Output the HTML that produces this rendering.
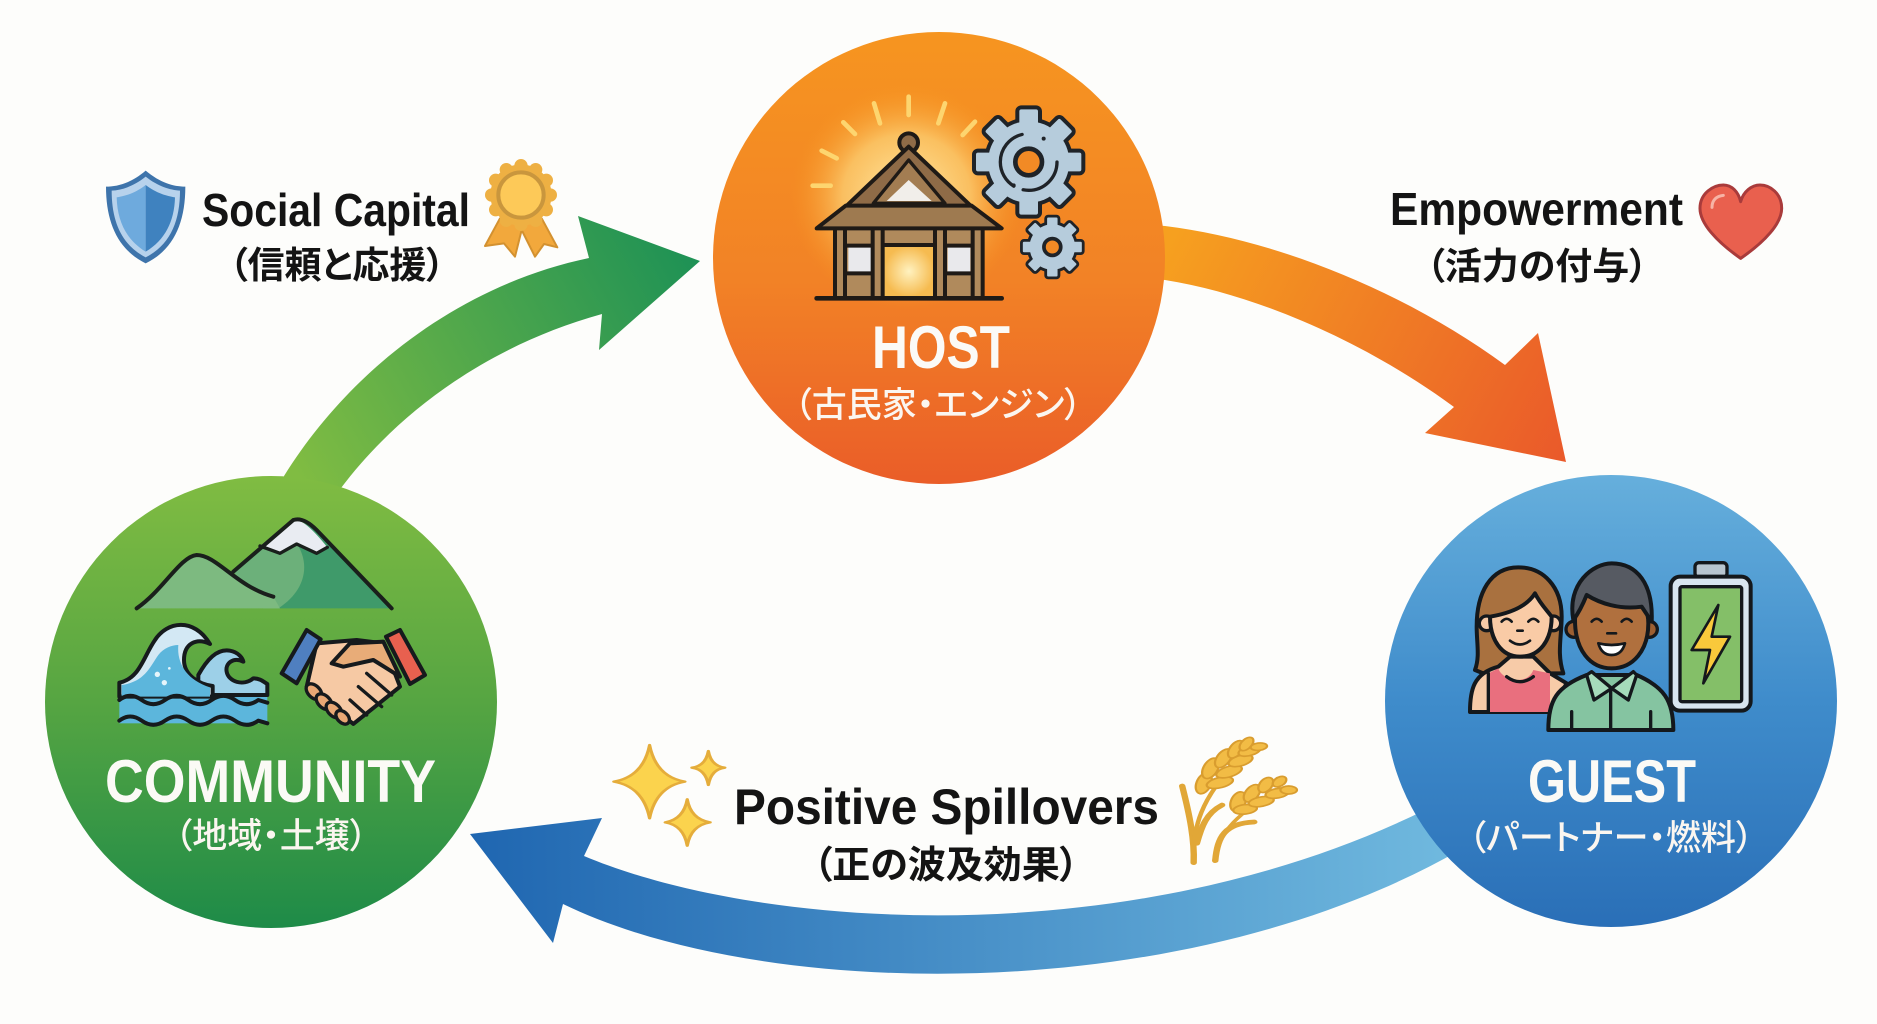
<!DOCTYPE html>
<html lang="ja">
<head>
<meta charset="utf-8">
<title>Community Host Guest cycle</title>
<style>
html,body{margin:0;padding:0;background:#fdfdfb;width:1877px;height:1024px;overflow:hidden}
svg{display:block}
.en{font-family:"Liberation Sans","Noto Sans CJK JP",sans-serif;font-weight:700;fill:#141414}
.jp{font-family:"Liberation Sans","Noto Sans CJK JP",sans-serif;font-weight:700;fill:#141414;font-feature-settings:"palt"}
.w{fill:#fbfaf6;font-family:"Liberation Sans",sans-serif;font-weight:700}
.jw{font-family:"Liberation Sans","Noto Sans CJK JP",sans-serif;font-weight:500;fill:#fbf6f0;font-feature-settings:"palt"}
</style>
</head>
<body>
<svg width="1877" height="1024" viewBox="0 0 1877 1024" xmlns="http://www.w3.org/2000/svg">
<defs>
<linearGradient id="gh" x1="0" y1="0" x2="0" y2="1"><stop offset="0" stop-color="#f69520"/><stop offset=".55" stop-color="#f28226"/><stop offset="1" stop-color="#ea5d28"/></linearGradient>
<linearGradient id="gc" x1="0" y1="0" x2="0" y2="1"><stop offset="0" stop-color="#80bc42"/><stop offset=".5" stop-color="#56a542"/><stop offset="1" stop-color="#1e8b48"/></linearGradient>
<linearGradient id="gg" x1="0" y1="0" x2="0" y2="1"><stop offset="0" stop-color="#66afdc"/><stop offset=".5" stop-color="#3f8ccb"/><stop offset="1" stop-color="#2a6fb7"/></linearGradient>
<linearGradient id="ag" gradientUnits="userSpaceOnUse" x1="300" y1="480" x2="690" y2="260"><stop offset="0" stop-color="#80bc42"/><stop offset="1" stop-color="#1f9255"/></linearGradient>
<linearGradient id="ao" gradientUnits="userSpaceOnUse" x1="1165" y1="250" x2="1560" y2="460"><stop offset="0" stop-color="#f6a01f"/><stop offset="1" stop-color="#ea5a2a"/></linearGradient>
<linearGradient id="ab" gradientUnits="userSpaceOnUse" x1="1440" y1="830" x2="480" y2="850"><stop offset="0" stop-color="#6fb8de"/><stop offset="1" stop-color="#2067b1"/></linearGradient>
<radialGradient id="glow"><stop offset="0" stop-color="#fff0b0" stop-opacity=".95"/><stop offset=".55" stop-color="#fdd67a" stop-opacity=".7"/><stop offset="1" stop-color="#f7981f" stop-opacity="0"/></radialGradient>
<radialGradient id="door"><stop offset="0" stop-color="#fff2c0"/><stop offset="1" stop-color="#f6bb50"/></radialGradient>
<g id="g1"><circle cx="0" cy="0" r="122"/><rect x="-28" y="-158" width="56" height="70" rx="6"/><rect x="-28" y="-158" width="56" height="70" rx="6" transform="rotate(45)"/><rect x="-28" y="-158" width="56" height="70" rx="6" transform="rotate(90)"/><rect x="-28" y="-158" width="56" height="70" rx="6" transform="rotate(135)"/><rect x="-28" y="-158" width="56" height="70" rx="6" transform="rotate(180)"/><rect x="-28" y="-158" width="56" height="70" rx="6" transform="rotate(225)"/><rect x="-28" y="-158" width="56" height="70" rx="6" transform="rotate(270)"/><rect x="-28" y="-158" width="56" height="70" rx="6" transform="rotate(315)"/></g>
</defs>
<rect width="1877" height="1024" fill="#fdfdfb"/>

<!-- arrows -->
<path fill="url(#ag)" d="M284,476 C350,370 460,285 589,258 L578,216 L700,261 L599,350 L602,314 C490,345 400,410 341,488 L330,540 L270,520 Z"/>
<path fill="url(#ao)" d="M1140,224 L1165,226 C1280,240 1410,295 1505,365 L1538,333 L1566,462 L1425,433 L1454,407 C1370,345 1260,295 1165,280 L1140,278 Z"/>
<path fill="url(#ab)" d="M1425,810 C1130,955 760,930 584,856 L602,818 L470,834 L553,943 L563,904 C760,1000 1180,1010 1460,850 Z"/>

<!-- circles -->
<circle cx="939" cy="258" r="226" fill="url(#gh)"/>
<circle cx="271" cy="702" r="226" fill="url(#gc)"/>
<circle cx="1611" cy="701" r="226" fill="url(#gg)"/>

<!-- HOST icon -->
<g transform="translate(680,0) scale(.33333)" stroke-linejoin="round" stroke-linecap="round">
<ellipse cx="680" cy="590" rx="350" ry="340" fill="url(#glow)"/>
<g stroke="#fdd56f" stroke-width="14" fill="none">
<path d="M398,557H452M425,452L470,475M490,367L525,402M582,310L600,370M686,290V345M795,310L775,370M885,365L848,405"/>
</g>
<circle cx="686" cy="428" r="28" fill="#8f6b47" stroke="#1f1a16" stroke-width="12"/>
<path d="M686,440L497,620H875Z" fill="#8f6b47" stroke="#1f1a16" stroke-width="12"/>
<path d="M686,480L580,610H795Z" fill="#a37d52" stroke="#1f1a16" stroke-width="10"/>
<path d="M620,603L686,540L755,603Z" fill="#f1eeea"/>
<rect x="465" y="685" width="445" height="208" fill="#b08a5c"/>
<rect x="505" y="740" width="68" height="78" fill="#e9e9ec"/>
<rect x="803" y="740" width="68" height="78" fill="#e9e9ec"/>
<rect x="612" y="738" width="150" height="152" fill="url(#door)"/>
<g fill="none" stroke="#1f1a16" stroke-width="12">
<path d="M465,685V893M495,685V893M578,685V893M608,685V893M765,685V893M795,685V893M878,685V893M908,685V893M497,737H575M612,735H762M800,737H878M497,820H575M800,820H878"/>
</g>
<path d="M497,617H875L965,685H410Z" fill="#9e7a50" stroke="#1f1a16" stroke-width="12"/>
<path d="M410,895H965" stroke="#1f1a16" stroke-width="14" fill="none"/>
<g transform="translate(1046,486)">
<use href="#g1" fill="#1f2328" stroke="#1f2328" stroke-width="24"/>
<use href="#g1" fill="#b6ccdc"/>
<circle r="85" fill="none" stroke="#1f2328" stroke-width="10" stroke-dasharray="150 30 200 154"/>
<circle r="40" fill="#f28a25" stroke="#1f2328" stroke-width="14"/>
<circle cx="45" cy="-70" r="6" fill="#1f2328"/><circle cx="-45" cy="70" r="6" fill="#1f2328"/>
</g>
<g transform="translate(1117,741) scale(.56)">
<use href="#g1" fill="#1f2328" stroke="#1f2328" stroke-width="30"/>
<use href="#g1" fill="#b6ccdc"/>
<circle r="45" fill="#f28a25" stroke="#1f2328" stroke-width="20"/>
</g>
</g>

<!-- COMMUNITY icon -->
<g transform="translate(30,500) scale(.33333)" stroke-linejoin="round" stroke-linecap="round">
<path d="M610,215L800,60L860,85L1085,325H745Z" fill="#3f9a6a"/>
<path d="M610,215L690,140L800,130C840,190 830,270 745,325H700Z" fill="#6cb07a"/>
<path d="M320,325C400,270 450,170 500,165C560,165 620,260 730,290L750,325Z" fill="#7dba80"/>
<path d="M690,138L790,60Q820,52 892,142L860,160L800,132L750,160Z" fill="#e9ecf2"/>
<path d="M690,138L750,160L800,132L860,160L892,142" fill="none" stroke="#1a1f1c" stroke-width="10"/>
<path d="M320,325C400,270 450,170 500,165C560,165 620,260 730,290M610,215L790,60Q820,50 860,90L1085,325" fill="none" stroke="#1a1f1c" stroke-width="12"/>
<rect x="268" y="552" width="444" height="118" fill="#5cb6dc"/>
<path d="M505,525C530,480 560,445 600,452C625,456 638,475 640,485C610,470 585,490 590,515C595,545 640,560 670,535C690,535 700,545 712,552V585H505Z" fill="#9dd0e8" stroke="#161a1d" stroke-width="12"/>
<path d="M268,548C330,535 340,470 375,420C410,365 490,350 540,432C500,412 462,430 462,480C462,525 505,552 548,558V590H268Z" fill="#d3e8f4" stroke="#161a1d" stroke-width="12"/>
<path d="M275,555C345,545 360,500 385,465C400,445 425,435 445,435C440,490 470,540 540,562V590H275Z" fill="#5cb6dc"/>
<path d="M268,600Q300,575 335,600T405,600T475,600T545,600T615,600T685,600L712,608" fill="none" stroke="#161a1d" stroke-width="12"/>
<path d="M268,662Q300,637 335,662T405,662T475,662T545,662T615,662T685,662L712,670" fill="none" stroke="#161a1d" stroke-width="12"/>
<circle cx="382" cy="523" r="8" fill="#e6f5fb"/><circle cx="403" cy="548" r="8" fill="#e6f5fb"/><circle cx="418" cy="505" r="4" fill="#e6f5fb"/>
<path d="M860,430L980,420L1060,430L1110,560L970,672L830,560Z" fill="#f6c9a4" stroke="#161a1d" stroke-width="12"/>
<path d="M905,490L960,430L1060,425L1110,530L1030,480L940,500Z" fill="#e8ac78" stroke="#161a1d" stroke-width="12"/>
<path d="M1010,520L1085,585M985,560L1055,620M960,600L1010,645" stroke="#161a1d" stroke-width="10" fill="none"/>
<g fill="#e9a875" stroke="#161a1d" stroke-width="10">
<ellipse cx="852" cy="575" rx="28" ry="18" transform="rotate(45 852 575)"/>
<ellipse cx="882" cy="605" rx="28" ry="18" transform="rotate(45 882 605)"/>
<ellipse cx="912" cy="630" rx="28" ry="18" transform="rotate(45 912 630)"/>
<ellipse cx="938" cy="652" rx="24" ry="16" transform="rotate(45 938 652)"/>
</g>
<path d="M830,390L872,418L800,550L755,520Z" fill="#4f7fc0" stroke="#161a1d" stroke-width="12"/>
<path d="M1068,410L1110,390L1185,525L1140,552Z" fill="#e8604f" stroke="#161a1d" stroke-width="12"/>
</g>

<!-- GUEST icon -->
<g transform="translate(1370,510) scale(.33333)" stroke-linejoin="round" stroke-linecap="round">
<path d="M445,172C360,172 320,250 320,350C320,400 330,440 315,480L340,490H560L580,490C560,430 575,380 575,320C575,230 520,172 445,172Z" fill="#a9713f" stroke="#14181c" stroke-width="12"/>
<path d="M300,606C300,540 310,490 385,470L420,440H490L540,490L590,520L540,606Z" fill="#f7cba8" stroke="#14181c" stroke-width="12"/>
<path d="M355,606V490L385,475C395,510 470,530 490,480L540,490V606Z" fill="#e96f7e"/>
<path d="M355,606V490M410,500Q450,530 490,500" fill="none" stroke="#14181c" stroke-width="10"/>
<circle cx="350" cy="340" r="22" fill="#f7cba8" stroke="#14181c" stroke-width="10"/>
<circle cx="550" cy="340" r="22" fill="#f7cba8" stroke="#14181c" stroke-width="10"/>
<path d="M360,320C420,310 470,290 495,250C510,280 530,300 545,320C545,390 510,440 450,440C395,440 360,390 360,320Z" fill="#f9cba6" stroke="#14181c" stroke-width="12"/>
<path d="M395,335Q410,318 425,335M475,335Q490,318 505,335M420,392Q450,415 480,392M442,362H458" fill="none" stroke="#14181c" stroke-width="8"/>
<path d="M535,660C535,570 560,530 650,495H800C880,530 910,570 910,660Z" fill="#85c4a1" stroke="#14181c" stroke-width="12"/>
<path d="M650,495L665,485L725,535L672,570ZM800,495L790,485L725,535L775,570Z" fill="#a6dbbb" stroke="#14181c" stroke-width="10"/>
<path d="M722,540V660M605,605V660M842,605V660" fill="none" stroke="#14181c" stroke-width="10"/>
<circle cx="612" cy="358" r="24" fill="#9c5f32" stroke="#14181c" stroke-width="10"/>
<circle cx="838" cy="358" r="24" fill="#9c5f32" stroke="#14181c" stroke-width="10"/>
<path d="M615,330C615,260 670,230 725,230C780,230 835,270 835,340C835,420 790,475 725,475C660,475 615,420 615,330Z" fill="#b0703e" stroke="#14181c" stroke-width="12"/>
<path d="M610,330C590,220 670,160 725,160C800,160 850,220 845,335L815,290C750,300 690,280 650,255C640,280 625,310 610,330Z" fill="#565a62" stroke="#14181c" stroke-width="12"/>
<path d="M665,335Q680,318 695,335M755,335Q770,318 785,335M712,370H738" fill="none" stroke="#14181c" stroke-width="8"/>
<path d="M685,400Q725,410 765,400Q755,435 725,435Q695,435 685,400Z" fill="#fff" stroke="#14181c" stroke-width="8"/>
<rect x="975" y="158" width="96" height="44" rx="12" fill="#b8c5cf" stroke="#14181c" stroke-width="10"/>
<rect x="902" y="200" width="240" height="402" rx="28" fill="#d8e5ef" stroke="#14181c" stroke-width="12"/>
<rect x="930" y="230" width="185" height="345" rx="6" fill="#84bf68" stroke="#14181c" stroke-width="10"/>
<path d="M1045,285L965,420L1020,420L1000,520L1080,380L1025,380Z" fill="#f9c93b" stroke="#14181c" stroke-width="8"/>
</g>

<!-- Shield and medal -->
<g transform="translate(80,140) scale(.33333)" stroke-linejoin="round">
<path d="M197,92C240,128 280,140 316,140C316,250 280,330 197,370C115,330 78,250 78,140C115,140 155,128 197,92Z" fill="#3e74ab"/>
<path d="M197,110C235,140 270,150 300,152C300,245 270,315 197,352C125,315 95,245 95,152C125,150 160,140 197,110Z" fill="#b7d2ec"/>
<path d="M197,135C165,160 135,168 110,172C112,245 140,300 197,335Z" fill="#6eaadd"/>
<path d="M197,135C230,160 260,168 285,172C283,245 255,300 197,335Z" fill="#3f82bf"/>
<path d="M1260,235L1215,318L1272,310L1305,350L1325,270L1365,350L1392,312L1432,322L1385,235Z" fill="#f2a83c" stroke="#d39130" stroke-width="6"/>
<g fill="#eeb043" transform="translate(1323,165)">
<circle r="92"/><circle cx="88" r="20"/><circle cx="76" cy="44" r="20"/><circle cx="44" cy="76" r="20"/><circle cy="88" r="20"/><circle cx="-44" cy="76" r="20"/><circle cx="-76" cy="44" r="20"/><circle cx="-88" r="20"/><circle cx="-76" cy="-44" r="20"/><circle cx="-44" cy="-76" r="20"/><circle cy="-88" r="20"/><circle cx="44" cy="-76" r="20"/><circle cx="76" cy="-44" r="20"/>
<circle r="68" fill="#fdc958" stroke="#c9963d" stroke-width="12"/>
</g>
</g>

<!-- Heart -->
<g transform="translate(1370,170) scale(.33333)">
<path d="M1112,265C1040,215 990,160 990,115C990,70 1030,45 1060,45C1085,45 1105,65 1112,95C1120,65 1145,45 1170,45C1200,45 1235,70 1235,115C1235,160 1185,215 1112,265Z" fill="#e9604e" stroke="#a93b3b" stroke-width="9" stroke-linejoin="round"/>
<path d="M1026,112C1026,90 1040,78 1060,76" fill="none" stroke="#f7b3a5" stroke-width="9" stroke-linecap="round"/>
</g>

<!-- Sparkles & rice -->
<g transform="translate(600,730) scale(.45914,.33333)" stroke-linejoin="round">
<g fill="#fbd34d" stroke="#e5ad3b" stroke-width="7">
<path d="M108,45Q122,140 185,155Q122,170 108,265Q94,170 30,155Q94,140 108,45Z"/>
<path d="M236,63Q242,108 272,113Q242,118 236,165Q230,118 200,113Q230,108 236,63Z"/>
<path d="M190,208Q198,268 240,277Q198,286 190,347Q182,286 142,277Q182,268 190,208Z"/>
</g>
<g fill="none" stroke="#e1a737" stroke-linecap="round">
<path d="M1293,398C1295,330 1285,260 1268,168" stroke-width="14"/>
<path d="M1293,398C1290,300 1305,200 1400,80" stroke-width="10"/>
<path d="M1340,392C1345,320 1360,280 1425,276" stroke-width="14"/>
<path d="M1338,392C1345,320 1375,260 1480,175" stroke-width="9"/>
<path d="M1300,340C1310,290 1320,250 1355,225" stroke-width="14"/>
</g>
<g fill="#f2bc45" stroke="#d99d2f" stroke-width="5">
<ellipse cx="1315" cy="160" rx="32" ry="16" transform="rotate(-75 1315 160)"/>
<ellipse cx="1350" cy="158" rx="30" ry="15" transform="rotate(-20 1350 158)"/>
<ellipse cx="1330" cy="115" rx="32" ry="16" transform="rotate(-70 1330 115)"/>
<ellipse cx="1370" cy="125" rx="30" ry="15" transform="rotate(-25 1370 125)"/>
<ellipse cx="1358" cy="85" rx="30" ry="15" transform="rotate(-65 1358 85)"/>
<ellipse cx="1395" cy="92" rx="28" ry="15" transform="rotate(-25 1395 92)"/>
<ellipse cx="1385" cy="58" rx="28" ry="14" transform="rotate(-65 1385 58)"/>
<ellipse cx="1415" cy="62" rx="26" ry="14" transform="rotate(-25 1415 62)"/>
<ellipse cx="1408" cy="42" rx="22" ry="12" transform="rotate(-60 1408 42)"/>
<ellipse cx="1435" cy="50" rx="18" ry="11" transform="rotate(-10 1435 50)"/>
<ellipse cx="1390" cy="215" rx="30" ry="16" transform="rotate(-75 1390 215)"/>
<ellipse cx="1405" cy="238" rx="26" ry="14" transform="rotate(-10 1405 238)"/>
<ellipse cx="1420" cy="190" rx="28" ry="15" transform="rotate(-65 1420 190)"/>
<ellipse cx="1440" cy="215" rx="28" ry="14" transform="rotate(-15 1440 215)"/>
<ellipse cx="1450" cy="165" rx="24" ry="14" transform="rotate(-65 1450 165)"/>
<ellipse cx="1475" cy="190" rx="26" ry="14" transform="rotate(-15 1475 190)"/>
<ellipse cx="1480" cy="155" rx="18" ry="12" transform="rotate(-50 1480 155)"/>
<ellipse cx="1500" cy="180" rx="18" ry="12" transform="rotate(0 1500 180)"/>
</g>
</g>

<!-- Text -->
<text class="w" font-size="60" x="872" y="368" textLength="138" lengthAdjust="spacingAndGlyphs">HOST</text>
<text class="jw" font-size="35" x="938" y="417" text-anchor="middle">（古民家・エンジン）</text>
<text class="w" font-size="60" x="105" y="802" textLength="331" lengthAdjust="spacingAndGlyphs">COMMUNITY</text>
<text class="jw" font-size="35" x="271" y="848" text-anchor="middle">（地域・土壌）</text>
<text class="w" font-size="60" x="1528" y="802" textLength="168" lengthAdjust="spacingAndGlyphs">GUEST</text>
<text class="jw" font-size="35" x="1611" y="850" text-anchor="middle">（パートナー・燃料）</text>

<text class="en" font-size="46" x="202" y="226" textLength="268" lengthAdjust="spacingAndGlyphs">Social Capital</text>
<text class="jp" font-size="37" x="337" y="278" text-anchor="middle">（信頼と応援）</text>
<text class="en" font-size="46" x="1390" y="225" textLength="293" lengthAdjust="spacingAndGlyphs">Empowerment</text>
<text class="jp" font-size="37" x="1537" y="279" text-anchor="middle">（活力の付与）</text>
<text class="en" font-size="50" x="734" y="824" textLength="425" lengthAdjust="spacingAndGlyphs">Positive Spillovers</text>
<text class="jp" font-size="38" x="946" y="878" text-anchor="middle">（正の波及効果）</text>
</svg>
</body>
</html>
